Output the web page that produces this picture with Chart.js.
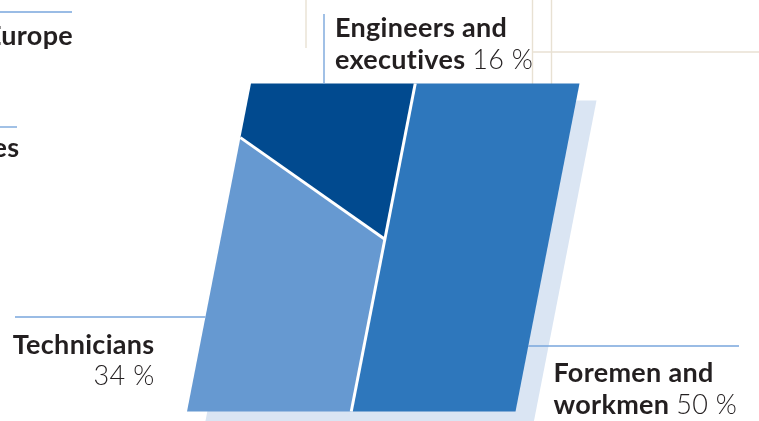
<!DOCTYPE html>
<html><head><meta charset="utf-8">
<script src="https://cdn.jsdelivr.net/npm/chart.js@4.4.0/dist/chart.umd.min.js"></script>
<style>html,body{margin:0;padding:0;background:#fff;overflow:hidden}canvas{display:block}</style>
</head><body>
<canvas id="c" width="759" height="421"></canvas>
<script>
// ---- data ----
const categories = ['Engineers and executives', 'Technicians', 'Foremen and workmen'];
const shares = [16, 34, 50];
const shareLabels = ['16 %', '34 %', '50 %'];
const nameLines = [['Engineers and', 'executives'], ['Technicians'], ['Foremen and', 'workmen']];
const clippedFragments = ['Europe', 'es'];

// ---- style ----
const fillColors = ['#014a8f', '#6699d1', '#2e77bc'];
const BOX = {left: 187, bottom: 411.5, width: 328.5, height: 328, skew: 64};
const SHADOW = {dx: 17, dy: 17, color: '#dae5f3'};
const SPLIT_TILT = 0.31;
const CW = 759, CH = 421;
const TEXT = '#231f20', LEAD = '#79a6dc', BEIGE = '#e8e1d3';
const BOLD = 'bold 27px Lato', REG = '300 27px Lato';
const SPACING = '0.3px';

const xPer = BOX.width / 100, yPer = BOX.height / 100;
const xMin = -BOX.left / xPer, xMax = xMin + CW / xPer;
const yMax = 100 + (BOX.bottom - BOX.height) / yPer;
const yMin = yMax - CH / yPer;
const S = BOX.skew / xPer;
function P(u, v) { return {x: u + S * v / 100, y: v}; }

const uL = shares[0] + shares[1];
const f = shares[0] / uL;
const vL = 100 * (1 - (f - SPLIT_TILT / 2));
const vR = 100 * (1 - (f + SPLIT_TILT / 2));
const polys = [
  [P(0, 100), P(uL, 100), P(uL, vR), P(0, vL), P(0, 100)],
  [P(0, vL), P(uL, vR), P(uL, 0), P(0, 0), P(0, vL)],
  [P(uL, 0), P(100, 0), P(100, 100), P(uL, 100), P(uL, 0)]
];
const sdx = SHADOW.dx / xPer, sdy = SHADOW.dy / yPer;
const shadowPoly = [P(0, 0), P(100, 0), P(100, 100), P(0, 100), P(0, 0)].map(p => ({x: p.x + sdx, y: p.y - sdy}));

const datasets = [];
datasets.push({label: 'shadow', data: shadowPoly, backgroundColor: SHADOW.color, borderWidth: 0, fill: 'shape', order: 10});
categories.forEach((c, i) => datasets.push({label: c, data: polys[i], backgroundColor: fillColors[i], borderWidth: 0, fill: 'shape', order: 5}));
datasets.push({label: 'divider', data: [P(uL, 0), P(uL, 100)], borderColor: '#ffffff', borderWidth: 3, fill: false, order: 1});
datasets.push({label: 'split', data: [P(0, vL), P(uL, vR)], borderColor: '#ffffff', borderWidth: 3, fill: false, order: 1});

function line(ctx, x1, y1, x2, y2, color) {
  ctx.save(); ctx.strokeStyle = color; ctx.lineWidth = 1.4;
  ctx.beginPath(); ctx.moveTo(x1, y1); ctx.lineTo(x2, y2); ctx.stroke(); ctx.restore();
}

const decor = {
  id: 'decor',
  beforeDraw(chart) {
    const ctx = chart.ctx;
    line(ctx, 306, 0, 306, 48, BEIGE);
    line(ctx, 532.5, 0, 532.5, 84, BEIGE);
    line(ctx, 551.5, 0, 551.5, 84, BEIGE);
    line(ctx, 532, 52, 759, 52, BEIGE);
  },
  afterDraw(chart) {
    const ctx = chart.ctx;
    ctx.save();
    ctx.fillStyle = TEXT;
    ctx.textBaseline = 'alphabetic';
    if ('letterSpacing' in ctx) ctx.letterSpacing = SPACING;
    // leader lines
    line(ctx, 0, 12, 72, 12, LEAD);
    line(ctx, 0, 127, 17, 127, LEAD);
    line(ctx, 324, 14, 324, 84, LEAD);
    line(ctx, 15, 317, 205.5, 317, LEAD);
    line(ctx, 528, 346, 739, 346, LEAD);
    // clipped neighbour labels
    ctx.font = BOLD; ctx.textAlign = 'right';
    ctx.fillText(clippedFragments[0], 73, 45);
    ctx.fillText(clippedFragments[1], 19.5, 157);
    // Engineers
    ctx.textAlign = 'left';
    ctx.font = BOLD;
    ctx.fillText(nameLines[0][0], 335, 37);
    ctx.fillText(nameLines[0][1], 335, 68.5);
    let w = ctx.measureText(nameLines[0][1] + ' ').width;
    ctx.font = REG; ctx.fillText(shareLabels[0], 335 + w, 68.5);
    // Technicians
    ctx.textAlign = 'right';
    ctx.font = BOLD; ctx.fillText(nameLines[1][0], 154.5, 353.5);
    ctx.font = REG; ctx.fillText(shareLabels[1], 154.5, 385);
    // Foremen
    ctx.textAlign = 'left';
    ctx.font = BOLD;
    ctx.fillText(nameLines[2][0], 553.5, 382);
    ctx.fillText(nameLines[2][1], 553.5, 413.5);
    w = ctx.measureText(nameLines[2][1] + ' ').width;
    ctx.font = REG; ctx.fillText(shareLabels[2], 553.5 + w, 413.5);
    ctx.restore();
  }
};

new Chart(document.getElementById('c'), {
  type: 'line',
  data: {datasets},
  options: {
    responsive: false,
    animation: false,
    devicePixelRatio: 1,
    layout: {padding: 0},
    elements: {point: {radius: 0, hoverRadius: 0}, line: {tension: 0}},
    plugins: {legend: {display: false}, tooltip: {enabled: false}},
    events: [],
    scales: {
      x: {type: 'linear', display: false, min: xMin, max: xMax},
      y: {type: 'linear', display: false, min: yMin, max: yMax}
    }
  },
  plugins: [decor]
});
</script>
</body></html>
